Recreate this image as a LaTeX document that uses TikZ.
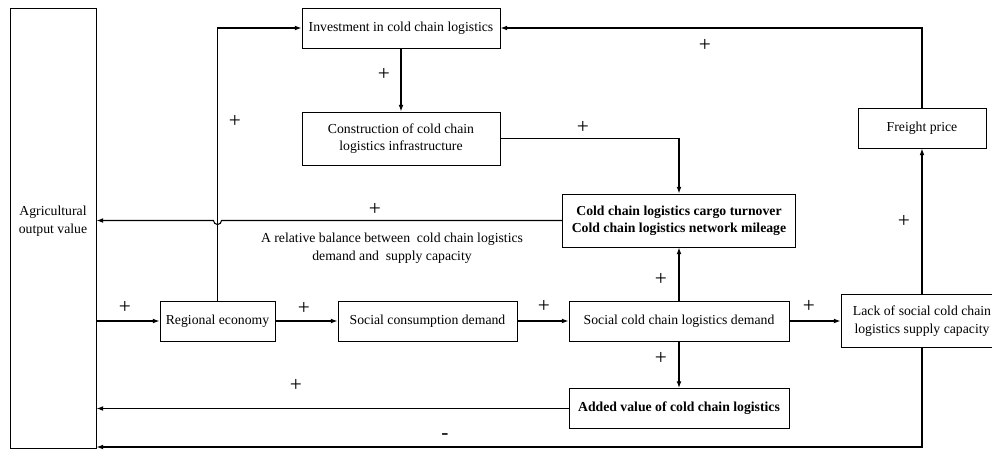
\documentclass[tikz,border=0pt]{standalone}
\usepackage{fontspec}
\setmainfont{Liberation Serif}
\usetikzlibrary{arrows.meta}
\begin{document}
\begin{tikzpicture}[x=0.75pt,y=-0.75pt,
  box/.style={draw,line width=0.75pt,inner sep=0pt,align=center,font=\fontsize{10.3}{13}\selectfont},
  bx/.style 2 args={minimum width=#1*0.75pt,minimum height=#2*0.75pt},
  bold/.style={font=\fontsize{10.3}{13}\selectfont\bfseries},
  arr/.style={-{Latex[length=5pt,width=3.6pt]},line width=0.8pt},
  sign/.style={font=\fontsize{16}{16}\selectfont,inner sep=0pt},
  lbl/.style={font=\fontsize{10.3}{13.5}\selectfont,align=center,inner sep=0pt}]
\useasboundingbox (0,0) rectangle (992,450);
\clip (0,0) rectangle (992,450);
% nodes
\node[box,bx={86}{440}] (agri) at (53,228) {};
\node[lbl] (agritxt) at (53,221) {Agricultural\\output value};
\node[box,bx={198}{40}] (inv) at (401,28) {Investment in cold chain logistics};
\node[box,bx={198}{53}] (cons) at (401,138.5) {Construction of cold chain\\logistics infrastructure};
\node[box,bold,bx={233}{53}] (turn) at (679,220.5) {Cold chain logistics cargo turnover\\Cold chain logistics network mileage};
\node[box,bx={128}{40}] (fr) at (922,128) {Freight price};
\node[box,bx={115}{40}] (reg) at (217.5,321) {Regional economy};
\node[box,bx={179}{40}] (scd) at (427.5,321) {Social consumption demand};
\node[box,bx={220}{40}] (sccl) at (679,321) {Social cold chain logistics demand};
\node[box,bx={162}{53}] (lack) at (922,321) {Lack of social cold chain\\logistics supply capacity};
\node[box,bold,bx={220}{40}] (add) at (679,408.5) {Added value of cold chain logistics};
\node[lbl] (bal) at (392,248) {A relative balance between~ cold chain logistics\\demand and~ supply capacity};
% helper coordinates
\coordinate (bump) at (reg.north |- turn.west);
\coordinate (bot) at (922,447);
% connectors
\draw[arr] (reg.north) -- (reg.north |- inv.west) -- (inv.west);
\draw[arr] (inv.south) -- (cons.north);
\draw[arr] (cons.east) -| (turn.north);
\draw[arr] (turn.west) -- ([xshift=3pt]bump) arc[start angle=0,end angle=-180,radius=3pt] -- (agri.east |- turn.west);
\draw[arr] (agri.east |- reg.west) -- (reg.west);
\draw[arr] (reg.east) -- (scd.west);
\draw[arr] (scd.east) -- (sccl.west);
\draw[arr] (sccl.east) -- (sccl.east -| lack.west);
\draw[arr] (sccl.north) -- (turn.south);
\draw[arr] (sccl.south) -- (add.north);
\draw[arr] (add.west) -- (agri.east |- add.west);
\draw[arr] (lack.north) -- (fr.south);
\draw[arr] (fr.north) |- (inv.east);
\draw[arr] (lack.south) -- (bot) -- (agri.east |- bot);
% signs
\node[sign] (p1) at (125,307) {+};
\node[sign] (p2) at (304,308) {+};
\node[sign] (p3) at (544,306) {+};
\node[sign] (p4) at (809,306) {+};
\node[sign] (p5) at (661,279) {+};
\node[sign] (p6) at (661,358) {+};
\node[sign] (p7) at (296,385) {+};
\node[sign] (p8) at (375,209) {+};
\node[sign] (p9) at (583,127) {+};
\node[sign] (p10) at (235,121) {+};
\node[sign] (p11) at (384,74) {+};
\node[sign] (p12) at (705,45) {+};
\node[sign] (p13) at (904,221) {+};
\node[sign] (m1) at (445,437) {-};
\end{tikzpicture}
\end{document}
